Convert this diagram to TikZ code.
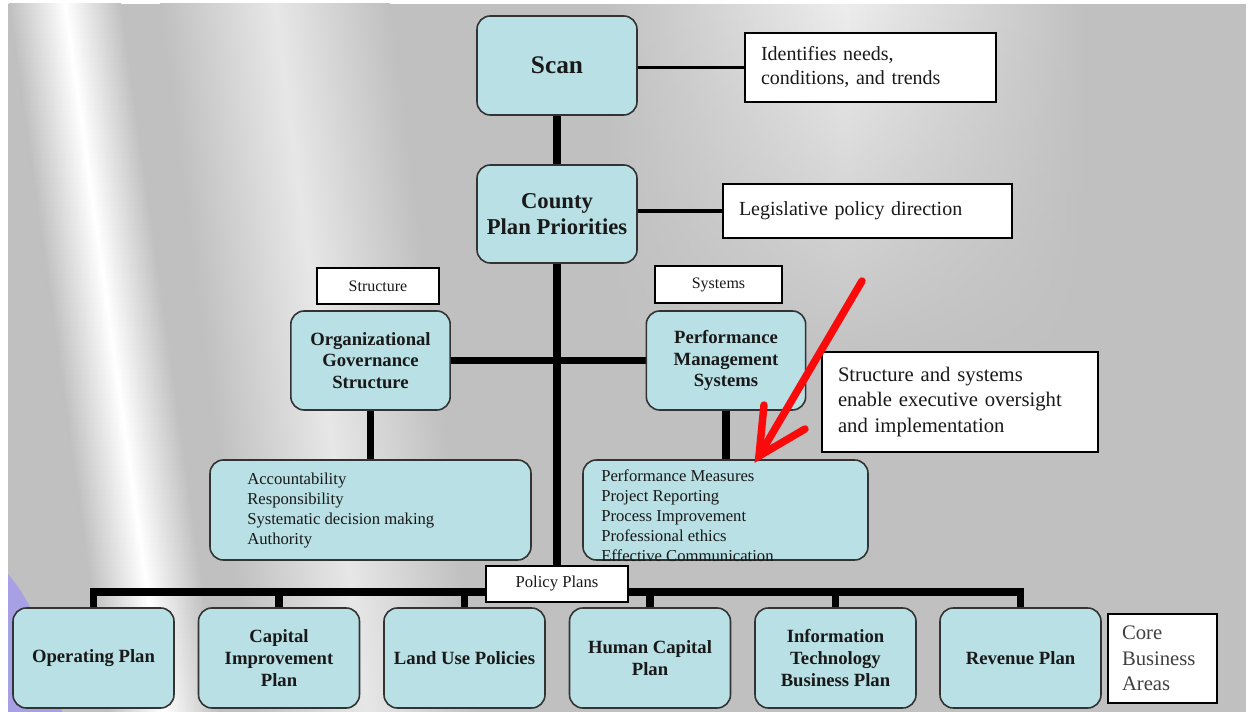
\documentclass[tikz,border=0pt]{standalone}
\usepackage{fontspec}
\setmainfont{Liberation Serif}
\usetikzlibrary{calc,fadings}
\definecolor{boxfill}{RGB}{185,224,228}
\definecolor{bggray}{RGB}{192,192,192}
\definecolor{lav}{RGB}{168,160,228}
\definecolor{arrowred}{RGB}{250,10,10}
\pgfdeclarelayer{bgl}
\pgfdeclarelayer{edges}
\pgfsetlayers{bgl,edges,main}
\tikzfading[name=fadedown, top color=transparent!0, bottom color=transparent!100]
\tikzfading[name=fadeboth, top color=transparent!100, middle color=transparent!0, bottom color=transparent!100]
\tikzset{
  tbox/.style={draw=black!80, line width=1.2pt, fill=boxfill, rounded corners=10pt,
    align=center, inner sep=0pt, text=black!90},
  wbox/.style={draw=black, line width=1.2pt, fill=white, inner sep=0pt, text=black!90},
  lbox/.style={wbox, align=left, inner xsep=12pt},
  bottombox/.style={tbox, minimum width=120.75pt, minimum height=75pt,
    font=\fontsize{14}{16.5}\selectfont\bfseries},
  midbox/.style={tbox, minimum width=119.5pt, minimum height=74.25pt,
    font=\fontsize{14}{16.2}\selectfont\bfseries},
  listtext/.style={anchor=north west, align=left, inner sep=0pt,
    font=\fontsize{12.5}{15}\selectfont, text=black!90},
  heavy/.style={line width=5.4pt, black},
  light/.style={line width=2.3pt, black},
  redarrow/.style={arrowred, line width=5.6pt, line cap=round},
}
\begin{document}
\begin{tikzpicture}[x=0.75pt,y=-0.75pt]
\useasboundingbox (0,0) rectangle (1250,712);

% ---------- background ----------
\begin{pgfonlayer}{bgl}
\fill[white] (0,0) rectangle (1250,712);
\fill[bggray] (8,4) rectangle (1246,712);
\begin{scope}
  \clip (8,4) rectangle (1246,712);
  \foreach \i in {0,...,118} {
    \pgfmathsetmacro{\ya}{4+\i*6}
    \pgfmathsetmacro{\yb}{\ya+6.4}
    \pgfmathsetmacro{\ca}{64+0.14*(\ya+3)}
    \pgfmathsetmacro{\cb}{274+0.13*(\ya+3)}
    \shade[left color=bggray, right color=bggray, middle color=white]
      (\ca-56,\ya) rectangle (\ca+56,\yb);
    \shade[left color=bggray, right color=bggray, middle color=white!62!bggray]
      (\cb-115,\ya) rectangle (\cb+115,\yb);
  }
  \shade[left color=bggray, right color=bggray, middle color=white!72!bggray, path fading=fadedown]
    (600,4) rectangle (1090,380);
  \shade[left color=bggray, right color=bggray, middle color=white!55!bggray, path fading=fadeboth]
    (1120,240) rectangle (1262,712);
  \shade[left color=bggray, right color=bggray, middle color=white!45!bggray, path fading=fadeboth]
    (930,380) rectangle (1100,640);
  \fill[lav] (8,574) .. controls (30,600) and (50,640) .. (62,712) -- (8,712) -- cycle;
\end{scope}
\end{pgfonlayer}

% ---------- nodes ----------
\node[tbox, minimum width=120pt, minimum height=74.25pt,
      font=\fontsize{19}{23}\selectfont\bfseries] (scan) at (557,65.5) {Scan};
\node[tbox, minimum width=120pt, minimum height=73.5pt,
      font=\fontsize{17}{20}\selectfont\bfseries] (county) at (557,214) {County\\Plan Priorities};

\node[lbox, text width=164.25pt, minimum height=51.75pt,
      font=\fontsize{15}{18}\selectfont] (ident) at (870.5,67.5) {Identifies needs,\\conditions, and trends};
\node[lbox, text width=192.75pt, minimum height=40.5pt,
      font=\fontsize{15}{18}\selectfont] (legis) at (867.5,211) {Legislative policy direction};

\node[wbox, minimum width=91.5pt, minimum height=27pt,
      font=\fontsize{12}{14}\selectfont] (struct) at (378,286) {Structure};
\node[wbox, minimum width=95.25pt, minimum height=27.75pt,
      font=\fontsize{12}{14}\selectfont] (systems) at (718.5,284.5) {Systems};

\node[midbox] (org) at (370.5,360.5) {Organizational\\Governance\\Structure};
\node[midbox] (perf) at (726,360.5) {Performance\\Management\\Systems};

\node[lbox, text width=183pt, minimum height=75pt,
      font=\fontsize{15.5}{19}\selectfont] (enable) at (960,402)
      {Structure and systems\\enable executive oversight\\and implementation};

\node[tbox, minimum width=240.75pt, minimum height=75pt] (acc) at (370.5,510) {};
\node[listtext] (acctext) at (247,473)
      {Accountability\\Responsibility\\Systematic decision making\\Authority};
\node[tbox, minimum width=213.75pt, minimum height=75pt] (pm) at (725.5,510) {};
\node[listtext] (pmtext) at (601,469)
      {Performance Measures\\Project Reporting\\Process Improvement\\Professional ethics\\Effective Communication};

\node[wbox, minimum width=106.5pt, minimum height=27pt,
      font=\fontsize{12.5}{14}\selectfont] (pol) at (557,584) {Policy Plans};

\node[bottombox] (op)   at (93.5,658)  {Operating Plan};
\node[bottombox] (cap)  at (279,658)   {Capital\\Improvement\\Plan};
\node[bottombox] (land) at (464.5,658) {Land Use Policies};
\node[bottombox] (hum)  at (650,658)   {Human Capital\\Plan};
\node[bottombox] (it)   at (835.5,658) {Information\\Technology\\Business Plan};
\node[bottombox] (rev)  at (1020.5,658) {Revenue Plan};

\node[lbox, inner xsep=10.5pt, text width=60.75pt, minimum height=66.75pt,
      font=\fontsize{15.5}{19}\selectfont, text=black!75] (core) at (1162.5,658.5)
      {Core\\Business\\Areas};

% ---------- connectors ----------
\coordinate (bus) at (557,592);
\begin{pgfonlayer}{edges}
\draw[light] (ident.west -| scan.east) -- (ident.west);
\draw[light] (legis.west -| county.east) -- (legis.west);
\draw[heavy] (scan.south) -- (county.north);
\draw[heavy] (county.south) -- (pol.north);
\draw[heavy] (org.east) -- (perf.west);
\draw[heavy] (org.south) -- (org.south |- acc.north);
\draw[heavy] (perf.south) -- (perf.south |- pm.north);
\draw[heavy, line join=miter] (op.north) -- (op.north |- bus) -- (rev.north |- bus) -- (rev.north);
\foreach \n in {cap,land,hum,it}
  \draw[heavy] (\n.north |- bus) -- (\n.north);
\end{pgfonlayer}

% ---------- red arrow ----------
\coordinate (rstart) at (862,281);
\coordinate (rtip) at (759,456);
\coordinate (rleft) at (764,405);
\coordinate (rright) at (805,429);
\draw[redarrow] (rstart) -- (rtip);
\draw[redarrow, line join=miter, miter limit=3] (rleft) -- (rtip) -- (rright);
\end{tikzpicture}
\end{document}
